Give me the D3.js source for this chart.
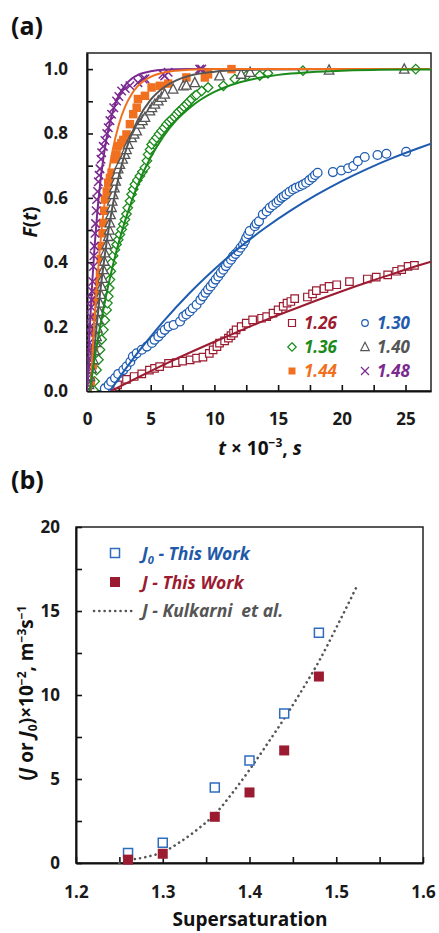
<!DOCTYPE html>
<html><head><meta charset="utf-8">
<script src="https://cdn.jsdelivr.net/npm/d3@7"></script>
<style>body{margin:0;background:#fff;} svg{display:block;font-family:"Open Sans",sans-serif;}</style>
</head><body><svg id="c" width="439" height="933"></svg>
<script>
// ---------- Panel (a) data: observed F(t) ----------
const seriesNames = ["1.26","1.30","1.36","1.40","1.44","1.48"];
const seriesColors = ["#9b1b30","#1f5cb0","#1a8a1a","#555555","#f07020","#7b2a90"];
const obs126 = [[1.9,0.003],[2.4,0.019],[3.1,0.036],[3.7,0.045],[4.3,0.053],[4.9,0.065],[5.3,0.07],[5.7,0.076],[6.4,0.086],[7.0,0.088],[7.5,0.093],[8.1,0.097],[8.6,0.102],[9.1,0.105],[9.6,0.117],[9.9,0.128],[10.2,0.138],[10.4,0.149],[10.8,0.156],[11.1,0.164],[11.3,0.172],[11.5,0.18],[11.7,0.19],[12.1,0.2],[12.5,0.211],[13.0,0.221],[13.7,0.226],[14.1,0.231],[14.6,0.242],[15.0,0.252],[15.4,0.263],[15.7,0.273],[16.0,0.278],[16.3,0.287],[17.3,0.292],[17.7,0.302],[18.0,0.312],[18.6,0.318],[19.0,0.325],[19.6,0.33],[20.6,0.34],[22.0,0.348],[22.7,0.354],[23.6,0.361],[24.3,0.372],[24.7,0.377],[25.2,0.387],[25.7,0.39]];
const obs130 = [[1.4,0.008],[1.7,0.019],[1.9,0.029],[2.2,0.04],[2.45,0.053],[2.85,0.065],[3.1,0.076],[3.4,0.091],[3.6,0.107],[3.9,0.117],[4.3,0.128],[4.7,0.138],[5.1,0.149],[5.3,0.159],[5.6,0.169],[5.85,0.18],[6.1,0.19],[6.4,0.2],[6.8,0.205],[7.3,0.216],[7.55,0.231],[7.8,0.238],[8.07,0.247],[8.3,0.257],[8.6,0.268],[8.9,0.283],[9.1,0.294],[9.3,0.305],[9.5,0.315],[9.7,0.325],[9.9,0.335],[10.1,0.346],[10.3,0.356],[10.5,0.367],[10.7,0.377],[10.9,0.388],[11.07,0.398],[11.3,0.408],[11.46,0.418],[11.66,0.426],[11.86,0.434],[12.05,0.445],[12.25,0.455],[12.4,0.466],[12.5,0.476],[12.65,0.487],[12.77,0.497],[13.17,0.512],[13.3,0.52],[13.5,0.527],[13.8,0.548],[14.1,0.558],[14.34,0.569],[14.6,0.577],[14.87,0.585],[15.05,0.592],[15.26,0.6],[15.45,0.605],[15.65,0.611],[15.9,0.619],[16.17,0.626],[16.4,0.631],[16.7,0.636],[16.95,0.641],[17.2,0.647],[17.45,0.655],[17.7,0.663],[17.9,0.671],[18.1,0.678],[19.3,0.68],[19.96,0.685],[20.5,0.692],[20.9,0.699],[21.26,0.714],[21.8,0.727],[22.8,0.733],[23.5,0.737],[25.05,0.743]];
const obs136 = [[0.5,0.003],[0.6,0.03],[0.75,0.065],[0.9,0.097],[1.02,0.128],[1.15,0.16],[1.28,0.19],[1.4,0.22],[1.54,0.252],[1.6,0.273],[1.67,0.294],[1.74,0.32],[1.8,0.346],[1.87,0.372],[1.93,0.398],[2.05,0.42],[2.19,0.439],[2.32,0.455],[2.45,0.47],[2.58,0.486],[2.72,0.502],[2.85,0.518],[2.98,0.533],[3.1,0.55],[3.2,0.569],[3.37,0.59],[3.5,0.611],[3.63,0.627],[3.76,0.642],[3.95,0.655],[4.15,0.668],[4.35,0.681],[4.55,0.694],[4.7,0.715],[4.8,0.735],[4.95,0.75],[5.07,0.766],[5.25,0.777],[5.46,0.787],[5.65,0.798],[5.85,0.808],[6.05,0.818],[6.25,0.829],[6.45,0.837],[6.64,0.844],[6.85,0.852],[7.03,0.86],[7.2,0.868],[7.42,0.875],[7.6,0.883],[7.81,0.891],[8.0,0.899],[8.2,0.907],[8.46,0.917],[8.6,0.92],[9.0,0.932],[9.5,0.943],[10.7,0.948],[11.6,0.969],[12.5,0.979],[13.56,0.98],[14.2,0.987],[16.95,0.995],[25.8,1.0]];
const obs140 = [[0.1,0.0],[0.15,0.02],[0.23,0.045],[0.35,0.07],[0.5,0.097],[0.6,0.125],[0.68,0.15],[0.75,0.169],[0.82,0.195],[0.89,0.221],[0.95,0.247],[1.02,0.273],[1.08,0.3],[1.15,0.325],[1.22,0.35],[1.28,0.377],[1.35,0.403],[1.41,0.429],[1.55,0.455],[1.67,0.48],[1.75,0.5],[1.8,0.522],[1.85,0.548],[1.93,0.57],[1.98,0.59],[2.06,0.61],[2.15,0.631],[2.25,0.652],[2.32,0.673],[2.45,0.69],[2.58,0.704],[2.8,0.72],[2.98,0.735],[3.1,0.75],[3.24,0.766],[3.5,0.787],[3.7,0.798],[3.9,0.808],[4.15,0.829],[4.35,0.84],[4.55,0.85],[4.94,0.87],[5.1,0.88],[5.33,0.891],[5.6,0.901],[5.85,0.912],[6.1,0.922],[6.76,0.938],[7.55,0.948],[7.8,0.95],[8.46,0.958],[10.4,0.979],[12.1,0.984],[12.8,0.99],[19.0,0.997],[24.9,1.0]];
const obs144 = [[0.0,0.0],[0.3,0.03],[0.45,0.08],[0.55,0.13],[0.63,0.18],[0.7,0.23],[0.76,0.28],[0.85,0.31],[0.95,0.34],[1.02,0.367],[1.08,0.41],[1.15,0.45],[1.22,0.49],[1.28,0.522],[1.35,0.56],[1.41,0.595],[1.55,0.62],[1.67,0.647],[1.8,0.662],[1.93,0.678],[2.19,0.72],[2.32,0.735],[2.45,0.761],[2.7,0.77],[2.85,0.78],[3.1,0.797],[3.37,0.829],[3.63,0.86],[3.9,0.88],[4.0,0.907],[4.55,0.917],[5.07,0.943],[5.72,0.948],[6.37,0.955],[7.8,0.974],[9.25,0.974],[9.5,0.984],[11.34,1.0]];
const obs148 = [[0.0,0.0],[0.02,0.02],[0.05,0.04],[0.08,0.06],[0.1,0.076],[0.13,0.1],[0.16,0.125],[0.2,0.15],[0.23,0.18],[0.27,0.2],[0.3,0.23],[0.34,0.26],[0.37,0.283],[0.41,0.31],[0.45,0.34],[0.5,0.387],[0.54,0.42],[0.58,0.45],[0.63,0.49],[0.67,0.52],[0.72,0.56],[0.76,0.595],[0.83,0.62],[0.89,0.65],[0.95,0.67],[1.02,0.69],[1.1,0.72],[1.15,0.74],[1.28,0.76],[1.41,0.778],[1.55,0.8],[1.67,0.818],[1.8,0.84],[1.93,0.86],[2.1,0.88],[2.32,0.901],[2.5,0.915],[2.72,0.932],[3.0,0.94],[3.37,0.948],[4.0,0.958],[4.4,0.969],[4.55,0.97],[5.96,0.984],[6.1,0.979],[6.37,0.99],[8.85,1.0],[9.0,1.0]];

// ---------- Panel (a) data: fitted curves ----------
const fit126 = {t:[1.9,4,6,8,10,12,14,16,18,20,22,24,26,27], F:[0,0.042,0.081,0.118,0.153,0.187,0.22,0.251,0.281,0.31,0.338,0.364,0.39,0.402]};
const fit130 = {t:[1.8,3,4,5,6,8,10,12,14,16,18,20,22,24,26,27], F:[0,0.067,0.12,0.169,0.216,0.302,0.378,0.447,0.507,0.561,0.609,0.652,0.69,0.724,0.754,0.768]};
const fit136 = {t:[0.2,0.5,1,1.5,2,2.5,3,4,5,6,7,8,9,10,12,14,16,18,20,23,27], F:[0,0.078,0.194,0.296,0.385,0.463,0.53,0.642,0.726,0.791,0.841,0.878,0.907,0.929,0.959,0.976,0.986,0.992,0.995,0.998,0.999]};
const fit140 = {t:[0.3,0.5,0.75,1,1.5,2,2.5,3,3.5,4,5,6,7,8,10,12,15,20,27], F:[0,0.095,0.201,0.295,0.451,0.573,0.667,0.741,0.798,0.843,0.905,0.942,0.965,0.979,0.992,0.997,0.999,1,1]};
const fit144 = {t:[0.27,0.5,0.75,1,1.25,1.5,1.75,2,2.5,3,3.5,4,5,6,7,8,10,14,20,27], F:[0,0.166,0.316,0.438,0.539,0.622,0.689,0.745,0.828,0.884,0.922,0.948,0.976,0.989,0.995,0.998,1,1,1,1]};
const fit148 = {t:[0,0.2,0.4,0.6,0.8,1,1.25,1.5,1.75,2,2.5,3,3.5,4,5,6,8,10,14,20,27], F:[0,0.181,0.33,0.451,0.551,0.632,0.713,0.777,0.826,0.865,0.918,0.95,0.97,0.982,0.993,0.998,1,1,1,1,1]};

const xTicksA = [0,2.5,5,7.5,10,12.5,15,17.5,20,22.5,25];
const yTicksA = [0,0.1,0.2,0.3,0.4,0.5,0.6,0.7,0.8,0.9,1.0];

// ---------- Panel (b) data ----------
const supersat = [1.26,1.30,1.36,1.40,1.44,1.48];
const J0vals = [0.6,1.2,4.5,6.1,8.9,13.7];
const Jvals = [0.2,0.55,2.75,4.2,6.7,11.1];
const kulkS = [1.25,1.26,1.28,1.30,1.32,1.34,1.36,1.38,1.40,1.42,1.44,1.46,1.48,1.50,1.525];
const kulkJ = [0,0.15,0.35,0.65,1.25,2.0,2.9,4.15,5.55,7.05,8.6,10.25,12.0,14.0,16.6];
const xTicksB = [1.2,1.25,1.3,1.35,1.4,1.45,1.5,1.55,1.6];
const yTicksB = [0,2.5,5,7.5,10,12.5,15,17.5,20];

// ---------- helpers ----------
const svg = d3.select("#c");
const shapes = {
  square: s => `M${-s/2},${-s/2}h${s}v${s}h${-s}Z`,
  diamond: s => `M0,${-s/2}L${s/2},0L0,${s/2}L${-s/2},0Z`,
  triangle: s => `M0,${-s*0.55}L${s/2},${s*0.42}L${-s/2},${s*0.42}Z`,
  cross: s => `M${-s/2},${-s/2}L${s/2},${s/2}M${s/2},${-s/2}L${-s/2},${s/2}`
};
function styleAxis(g){
  g.select(".domain").attr("stroke","#111").attr("stroke-width",2);
  g.selectAll(".tick line").attr("stroke","#111").attr("stroke-width",1.6);
  g.selectAll(".tick text").attr("font-size",17).attr("font-weight","bold").attr("fill","#1a1a1a").attr("font-family","'Open Sans',sans-serif");
}

// ================= Panel (a) =================
const xa = d3.scaleLinear().domain([0,27]).range([87,431]);
const ya = d3.scaleLinear().domain([0,1.05]).range([391,53]);

svg.append("defs").append("clipPath").attr("id","clipA")
  .append("rect").attr("x",87).attr("y",53).attr("width",344).attr("height",338);

svg.append("rect").attr("x",xa(0)).attr("y",ya(1.05)).attr("width",xa(27)-xa(0)).attr("height",ya(0)-ya(1.05))
  .attr("fill","none").attr("stroke","#222").attr("stroke-width",1.5);

const gxa = svg.append("g").attr("transform",`translate(0,${ya(0)})`)
  .call(d3.axisBottom(xa).tickValues(xTicksA).tickSizeInner(-6).tickSizeOuter(0).tickPadding(22)
    .tickFormat(d => d % 5 === 0 ? String(d) : ""));
styleAxis(gxa);
const gya = svg.append("g").attr("transform",`translate(${xa(0)},0)`)
  .call(d3.axisLeft(ya).tickValues(yTicksA).tickSizeInner(-6).tickSizeOuter(0).tickPadding(19)
    .tickFormat(d => (Math.round(d*10) % 2 === 0) ? d3.format(".1f")(d) : ""));
styleAxis(gya);

const plotA = svg.append("g").attr("clip-path","url(#clipA)");
const obsList = [
  {data:obs126, shape:"square", size:7.5, fill:"#fff", sw:1.2},
  {data:obs130, shape:"circle", size:4.4, fill:"#fff", sw:1.3},
  {data:obs136, shape:"diamond", size:9.5, fill:"#fff", sw:1.3},
  {data:obs144, shape:"square", size:8.5, fill:"#f07020", sw:0},
  {data:obs140, shape:"triangle", size:9.5, fill:"#fff", sw:1.3},
  {data:obs148, shape:"cross", size:8.5, fill:"none", sw:1.5}
];
const obsColors = ["#9b1b30","#1f5cb0","#1a8a1a","#f07020","#555555","#7b2a90"];
obsList.forEach((s,i) => {
  const g = plotA.append("g");
  const col = obsColors[i];
  if (s.shape === "circle") {
    g.selectAll("circle").data(s.data).join("circle")
      .attr("cx", d => xa(d[0])).attr("cy", d => ya(d[1])).attr("r", s.size)
      .attr("fill", s.fill).attr("stroke", col).attr("stroke-width", s.sw);
  } else {
    g.selectAll("path").data(s.data).join("path")
      .attr("transform", d => `translate(${xa(d[0])},${ya(d[1])})`)
      .attr("d", shapes[s.shape](s.size))
      .attr("fill", s.fill).attr("stroke", s.sw ? col : "none").attr("stroke-width", s.sw);
  }
});

const lineA = d3.line().x(d => xa(d[0])).y(d => ya(d[1])).curve(d3.curveMonotoneX);
const fits = [
  {f:fit148, c:"#7b2a90"},
  {f:fit140, c:"#555555"},
  {f:fit144, c:"#f07020"},
  {f:fit136, c:"#1a8a1a"},
  {f:fit130, c:"#1f5cb0"},
  {f:fit126, c:"#9b1b30"}
];
fits.forEach(o => {
  const pts = o.f.t.map((t,i) => [t, o.f.F[i]]);
  plotA.append("path").datum(pts).attr("d", lineA)
    .attr("fill","none").attr("stroke", o.c).attr("stroke-width", 2);
});

// legend (a)
const legA = [
  {name:seriesNames[0], shape:"square", col:seriesColors[0], x:292, y:323},
  {name:seriesNames[1], shape:"circle", col:seriesColors[1], x:365, y:323},
  {name:seriesNames[2], shape:"diamond", col:seriesColors[2], x:292, y:347},
  {name:seriesNames[3], shape:"triangle", col:seriesColors[3], x:365, y:347},
  {name:seriesNames[4], shape:"fsquare", col:seriesColors[4], x:292, y:371},
  {name:seriesNames[5], shape:"cross", col:seriesColors[5], x:365, y:371}
];
legA.forEach(l => {
  if (l.shape === "circle") {
    svg.append("circle").attr("cx",l.x).attr("cy",l.y).attr("r",3.3).attr("fill","#fff").attr("stroke",l.col).attr("stroke-width",1.2);
  } else if (l.shape === "fsquare") {
    svg.append("path").attr("transform",`translate(${l.x},${l.y})`).attr("d",shapes.square(7)).attr("fill",l.col);
  } else {
    const sz = l.shape === "square" ? 7 : l.shape === "cross" ? 8 : 8.5;
    svg.append("path").attr("transform",`translate(${l.x},${l.y})`).attr("d",shapes[l.shape](sz))
      .attr("fill", l.shape==="cross" ? "none" : "#fff").attr("stroke",l.col).attr("stroke-width",1.2);
  }
  svg.append("text").attr("x",l.x+12).attr("y",l.y+6).text(l.name)
    .attr("font-size",17).attr("font-weight","bold").attr("font-style","italic").attr("fill",l.col);
});

// labels (a)
svg.append("text").attr("x",11).attr("y",35).text("(a)").attr("font-size",25).attr("font-weight","bold").attr("fill","#111");
const fl = svg.append("text").attr("transform","translate(37,222) rotate(-90)").attr("text-anchor","middle")
  .attr("font-size",19).attr("font-weight","bold").attr("fill","#111");
fl.append("tspan").attr("font-style","italic").text("F");
fl.append("tspan").text("(");
fl.append("tspan").attr("font-style","italic").text("t");
fl.append("tspan").text(")");
const xl = svg.append("text").attr("x",260).attr("y",455).attr("text-anchor","middle")
  .attr("font-size",19).attr("font-weight","bold").attr("fill","#111");
xl.append("tspan").attr("font-style","italic").text("t");
xl.append("tspan").text(" × 10");
xl.append("tspan").attr("font-size",12).attr("dy",-8).text("−3");
xl.append("tspan").attr("dy",8).text(", ");
xl.append("tspan").attr("font-style","italic").text("s");

// ================= Panel (b) =================
const xb = d3.scaleLinear().domain([1.2,1.6]).range([76,423]);
const yb = d3.scaleLinear().domain([0,20]).range([863,527]);

svg.append("rect").attr("x",xb(1.2)).attr("y",yb(20)).attr("width",xb(1.6)-xb(1.2)).attr("height",yb(0)-yb(20))
  .attr("fill","none").attr("stroke","#222").attr("stroke-width",1.5);
const gxb = svg.append("g").attr("transform",`translate(0,${yb(0)})`)
  .call(d3.axisBottom(xb).tickValues(xTicksB).tickSizeInner(-6).tickSizeOuter(0).tickPadding(23)
    .tickFormat(d => (Math.round(d*100) % 10 === 0) ? d3.format(".1f")(d) : ""));
styleAxis(gxb);
const gyb = svg.append("g").attr("transform",`translate(${xb(1.2)},0)`)
  .call(d3.axisLeft(yb).tickValues(yTicksB).tickSizeInner(-6).tickSizeOuter(0).tickPadding(16)
    .tickFormat(d => d % 5 === 0 ? String(d) : ""));
styleAxis(gyb);

const lineB = d3.line().x(d => xb(d[0])).y(d => yb(d[1])).curve(d3.curveMonotoneX);
svg.append("path").datum(kulkS.map((s,i)=>[s,kulkJ[i]])).attr("d",lineB)
  .attr("fill","none").attr("stroke","#555").attr("stroke-width",2.6)
  .attr("stroke-linecap","round").attr("stroke-dasharray","0.1 5.2");

svg.append("g").selectAll("path").data(supersat.map((s,i)=>[s,J0vals[i]])).join("path")
  .attr("transform", d => `translate(${xb(d[0])},${yb(d[1])})`).attr("d", shapes.square(9))
  .attr("fill","#fff").attr("stroke","#2f6cc0").attr("stroke-width",1.5);
svg.append("g").selectAll("path").data(supersat.map((s,i)=>[s,Jvals[i]])).join("path")
  .attr("transform", d => `translate(${xb(d[0])},${yb(d[1])})`).attr("d", shapes.square(10))
  .attr("fill","#9b1b30");

// legend (b)
svg.append("path").attr("transform","translate(115,553)").attr("d",shapes.square(9)).attr("fill","#fff").attr("stroke","#2f6cc0").attr("stroke-width",1.5);
svg.append("path").attr("transform","translate(115,582)").attr("d",shapes.square(10)).attr("fill","#9b1b30");
svg.append("line").attr("x1",94).attr("x2",132).attr("y1",611).attr("y2",611)
  .attr("stroke","#555").attr("stroke-width",2.6).attr("stroke-linecap","round").attr("stroke-dasharray","0.1 5.2");
const t1 = svg.append("text").attr("x",142).attr("y",560).attr("font-size",17.5).attr("font-weight","bold").attr("font-style","italic").attr("fill","#1f5aa8");
t1.append("tspan").text("J");
t1.append("tspan").attr("font-size",11).attr("dy",4).text("0");
t1.append("tspan").attr("dy",-4).text(" - This Work");
svg.append("text").attr("x",142).attr("y",589).attr("font-size",17.5).attr("font-weight","bold").attr("font-style","italic").attr("fill","#9b1b30").text("J - This Work");
svg.append("text").attr("x",142).attr("y",617).attr("font-size",17.5).attr("font-weight","bold").attr("font-style","italic").attr("fill","#555").text("J - Kulkarni\u2002et al.");

// labels (b)
svg.append("text").attr("x",11).attr("y",489).text("(b)").attr("font-size",25).attr("font-weight","bold").attr("fill","#111");
svg.append("text").attr("x",250).attr("y",926).attr("text-anchor","middle").text("Supersaturation")
  .attr("font-size",19).attr("font-weight","bold").attr("fill","#111");
const yl = svg.append("text").attr("transform","translate(33,693) rotate(-90)").attr("text-anchor","middle")
  .attr("font-size",19).attr("font-weight","bold").attr("fill","#111");
yl.append("tspan").text("(");
yl.append("tspan").attr("font-style","italic").text("J");
yl.append("tspan").text(" or ");
yl.append("tspan").attr("font-style","italic").text("J");
yl.append("tspan").attr("font-size",12).attr("dy",4).text("0");
yl.append("tspan").attr("dy",-4).text(")×10");
yl.append("tspan").attr("font-size",12).attr("dy",-7).text("−2");
yl.append("tspan").attr("dy",7).text(", m");
yl.append("tspan").attr("font-size",12).attr("dy",-7).text("−3");
yl.append("tspan").attr("dy",7).text("s");
yl.append("tspan").attr("font-size",12).attr("dy",-7).text("−1");
</script></body></html>
